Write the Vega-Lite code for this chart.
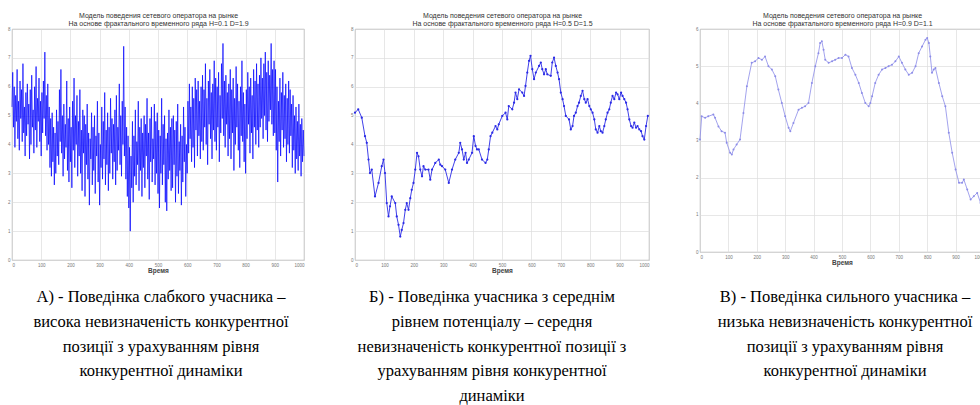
{
  "$schema": "https://vega.github.io/schema/vega-lite/v6.json",
  "background": "white",
  "padding": {"left": 7, "top": 10, "right": 0, "bottom": 0},
  "config": {
    "view": {"stroke": "#9a9a9a", "strokeWidth": 0.8},
    "axis": {
      "labelFont": "Liberation Sans", "labelFontSize": 4.5, "labelColor": "#777", "labelOverlap": false,
      "titleFont": "Liberation Sans", "titleFontSize": 6.5, "titleColor": "#444", "titleFontWeight": "bold",
      "gridColor": "#dcdcdc", "gridWidth": 0.7, "domain": false, "ticks": false, "labelPadding": 2
    },
    "title": {"font": "Liberation Serif", "fontSize": 16.5, "fontWeight": "normal", "color": "#000", "lineHeight": 24.8, "orient": "bottom", "anchor": "middle", "offset": 15}
  },
  "datasets": {
    "p1": [
      {"t":0,"y":5.3},{"t":2.5,"y":6.5},{"t":5,"y":4.6},{"t":7.5,"y":6.0},{"t":10,"y":3.9},{"t":12.5,"y":5.7},{"t":15,"y":4.8},{"t":17.5,"y":6.6},{"t":20,"y":4.2},{"t":22.5,"y":5.5},
      {"t":25,"y":3.8},{"t":27.5,"y":6.2},{"t":30,"y":4.9},{"t":32.5,"y":5.9},{"t":35,"y":4.1},{"t":37.5,"y":6.8},{"t":40,"y":4.4},{"t":42.5,"y":5.3},{"t":45,"y":3.6},{"t":47.5,"y":5.8},
      {"t":50,"y":4.3},{"t":52.5,"y":6.1},{"t":55,"y":4.7},{"t":57.5,"y":5.4},{"t":60,"y":3.5},{"t":62.5,"y":5.9},{"t":65,"y":4.0},{"t":67.5,"y":6.4},{"t":70,"y":4.6},{"t":72.5,"y":5.2},
      {"t":75,"y":3.7},{"t":77.5,"y":6.0},{"t":80,"y":4.5},{"t":82.5,"y":6.7},{"t":85,"y":3.9},{"t":87.5,"y":5.6},{"t":90,"y":4.8},{"t":92.5,"y":6.3},{"t":95,"y":4.1},{"t":97.5,"y":5.5},
      {"t":100,"y":3.6},{"t":102.5,"y":5.8},{"t":105,"y":4.4},{"t":107.5,"y":6.2},{"t":110,"y":4.9},{"t":112.5,"y":7.2},{"t":115,"y":4.3},{"t":117.5,"y":5.7},{"t":120,"y":3.8},{"t":122.5,"y":6.1},
      {"t":125,"y":4.0},{"t":127.5,"y":5.3},{"t":130,"y":3.2},{"t":132.5,"y":4.9},{"t":135,"y":2.9},{"t":137.5,"y":5.1},{"t":140,"y":3.4},{"t":142.5,"y":4.6},{"t":145,"y":2.6},{"t":147.5,"y":4.4},
      {"t":150,"y":3.0},{"t":152.5,"y":5.2},{"t":155,"y":3.6},{"t":157.5,"y":4.8},{"t":160,"y":3.3},{"t":162.5,"y":5.9},{"t":165,"y":4.1},{"t":167.5,"y":6.6},{"t":170,"y":3.7},{"t":172.5,"y":5.0},
      {"t":175,"y":2.9},{"t":177.5,"y":5.4},{"t":180,"y":3.5},{"t":182.5,"y":4.7},{"t":185,"y":3.9},{"t":187.5,"y":6.2},{"t":190,"y":3.1},{"t":192.5,"y":4.9},{"t":195,"y":2.7},{"t":197.5,"y":5.3},
      {"t":200,"y":3.4},{"t":202.5,"y":4.6},{"t":205,"y":2.5},{"t":207.5,"y":5.5},{"t":210,"y":3.8},{"t":212.5,"y":6.3},{"t":215,"y":3.2},{"t":217.5,"y":5.0},{"t":220,"y":4.0},{"t":222.5,"y":5.7},
      {"t":225,"y":2.9},{"t":227.5,"y":4.8},{"t":230,"y":3.6},{"t":232.5,"y":5.9},{"t":235,"y":3.0},{"t":237.5,"y":4.5},{"t":240,"y":2.4},{"t":242.5,"y":5.2},{"t":245,"y":3.7},{"t":247.5,"y":5.0},
      {"t":250,"y":2.2},{"t":252.5,"y":4.7},{"t":255,"y":3.3},{"t":257.5,"y":5.4},{"t":260,"y":2.8},{"t":262.5,"y":4.4},{"t":265,"y":1.9},{"t":267.5,"y":4.2},{"t":270,"y":3.5},{"t":272.5,"y":5.1},
      {"t":275,"y":2.6},{"t":277.5,"y":4.6},{"t":280,"y":3.1},{"t":282.5,"y":5.0},{"t":285,"y":2.3},{"t":287.5,"y":4.3},{"t":290,"y":3.6},{"t":292.5,"y":5.5},{"t":295,"y":2.7},{"t":297.5,"y":4.4},
      {"t":300,"y":1.9},{"t":302.5,"y":4.0},{"t":305,"y":3.2},{"t":307.5,"y":5.3},{"t":310,"y":2.8},{"t":312.5,"y":4.8},{"t":315,"y":3.5},{"t":317.5,"y":5.8},{"t":320,"y":2.6},{"t":322.5,"y":4.5},
      {"t":325,"y":3.3},{"t":327.5,"y":5.1},{"t":330,"y":2.4},{"t":332.5,"y":4.6},{"t":335,"y":3.0},{"t":337.5,"y":5.6},{"t":340,"y":3.7},{"t":342.5,"y":4.9},{"t":345,"y":2.8},{"t":347.5,"y":4.7},
      {"t":350,"y":3.4},{"t":352.5,"y":5.2},{"t":355,"y":2.6},{"t":357.5,"y":5.7},{"t":360,"y":3.1},{"t":362.5,"y":4.6},{"t":365,"y":3.8},{"t":367.5,"y":6.1},{"t":370,"y":3.3},{"t":372.5,"y":5.0},
      {"t":375,"y":2.9},{"t":377.5,"y":5.5},{"t":380,"y":4.0},{"t":382.5,"y":7.4},{"t":385,"y":3.6},{"t":387.5,"y":5.3},{"t":390,"y":2.8},{"t":392.5,"y":4.6},{"t":395,"y":2.2},{"t":397.5,"y":4.3},
      {"t":400,"y":1.8},{"t":402.5,"y":3.9},{"t":405,"y":1.0},{"t":407.5,"y":3.6},{"t":410,"y":2.5},{"t":412.5,"y":4.8},{"t":415,"y":2.0},{"t":417.5,"y":4.3},{"t":420,"y":2.9},{"t":422.5,"y":5.2},
      {"t":425,"y":2.6},{"t":427.5,"y":4.1},{"t":430,"y":3.3},{"t":432.5,"y":5.5},{"t":435,"y":2.4},{"t":437.5,"y":4.6},{"t":440,"y":3.1},{"t":442.5,"y":4.9},{"t":445,"y":2.2},{"t":447.5,"y":4.4},
      {"t":450,"y":3.2},{"t":452.5,"y":5.0},{"t":455,"y":2.5},{"t":457.5,"y":4.7},{"t":460,"y":3.6},{"t":462.5,"y":5.6},{"t":465,"y":2.8},{"t":467.5,"y":4.4},{"t":470,"y":2.1},{"t":472.5,"y":4.9},
      {"t":475,"y":3.4},{"t":477.5,"y":5.3},{"t":480,"y":2.7},{"t":482.5,"y":4.2},{"t":485,"y":3.5},{"t":487.5,"y":5.4},{"t":490,"y":2.6},{"t":492.5,"y":4.8},{"t":495,"y":3.0},{"t":497.5,"y":5.1},
      {"t":500,"y":2.3},{"t":502.5,"y":4.5},{"t":505,"y":1.8},{"t":507.5,"y":4.3},{"t":510,"y":3.0},{"t":512.5,"y":5.6},{"t":515,"y":2.6},{"t":517.5,"y":4.7},{"t":520,"y":3.3},{"t":522.5,"y":5.0},
      {"t":525,"y":2.0},{"t":527.5,"y":4.2},{"t":530,"y":1.7},{"t":532.5,"y":4.4},{"t":535,"y":2.8},{"t":537.5,"y":5.2},{"t":540,"y":3.1},{"t":542.5,"y":4.6},{"t":545,"y":2.4},{"t":547.5,"y":4.9},
      {"t":550,"y":2.5},{"t":552.5,"y":5.0},{"t":555,"y":3.3},{"t":557.5,"y":4.5},{"t":560,"y":2.0},{"t":562.5,"y":4.8},{"t":565,"y":2.9},{"t":567.5,"y":5.4},{"t":570,"y":2.3},{"t":572.5,"y":4.1},
      {"t":575,"y":3.1},{"t":577.5,"y":4.7},{"t":580,"y":1.9},{"t":582.5,"y":4.3},{"t":585,"y":2.7},{"t":587.5,"y":5.3},{"t":590,"y":3.4},{"t":592.5,"y":4.6},{"t":595,"y":2.2},{"t":597.5,"y":4.0},
      {"t":600,"y":3.0},{"t":602.5,"y":5.5},{"t":605,"y":3.7},{"t":607.5,"y":6.1},{"t":610,"y":4.2},{"t":612.5,"y":5.3},{"t":615,"y":3.4},{"t":617.5,"y":6.0},{"t":620,"y":3.9},{"t":622.5,"y":5.6},
      {"t":625,"y":3.2},{"t":627.5,"y":6.3},{"t":630,"y":4.5},{"t":632.5,"y":5.9},{"t":635,"y":3.6},{"t":637.5,"y":6.2},{"t":640,"y":4.3},{"t":642.5,"y":5.5},{"t":645,"y":3.5},{"t":647.5,"y":6.0},
      {"t":650,"y":4.1},{"t":652.5,"y":6.4},{"t":655,"y":3.8},{"t":657.5,"y":5.9},{"t":660,"y":4.6},{"t":662.5,"y":6.8},{"t":665,"y":4.0},{"t":667.5,"y":5.6},{"t":670,"y":3.3},{"t":672.5,"y":6.2},
      {"t":675,"y":4.7},{"t":677.5,"y":6.6},{"t":680,"y":4.2},{"t":682.5,"y":5.8},{"t":685,"y":3.5},{"t":687.5,"y":6.1},{"t":690,"y":4.5},{"t":692.5,"y":6.9},{"t":695,"y":4.1},{"t":697.5,"y":6.3},
      {"t":700,"y":3.8},{"t":702.5,"y":6.0},{"t":705,"y":4.6},{"t":707.5,"y":6.5},{"t":710,"y":3.4},{"t":712.5,"y":5.7},{"t":715,"y":4.4},{"t":717.5,"y":6.8},{"t":720,"y":4.9},{"t":722.5,"y":7.5},
      {"t":725,"y":4.3},{"t":727.5,"y":6.2},{"t":730,"y":3.9},{"t":732.5,"y":6.4},{"t":735,"y":4.7},{"t":737.5,"y":5.8},{"t":740,"y":3.6},{"t":742.5,"y":6.1},{"t":745,"y":4.2},{"t":747.5,"y":6.6},
      {"t":750,"y":3.5},{"t":752.5,"y":5.9},{"t":755,"y":4.4},{"t":757.5,"y":6.3},{"t":760,"y":3.1},{"t":762.5,"y":5.6},{"t":765,"y":4.0},{"t":767.5,"y":6.7},{"t":770,"y":4.6},{"t":772.5,"y":6.1},
      {"t":775,"y":3.8},{"t":777.5,"y":5.5},{"t":780,"y":3.2},{"t":782.5,"y":6.0},{"t":785,"y":4.3},{"t":787.5,"y":6.9},{"t":790,"y":4.1},{"t":792.5,"y":5.8},{"t":795,"y":3.4},{"t":797.5,"y":5.4},
      {"t":800,"y":3.0},{"t":802.5,"y":5.9},{"t":805,"y":4.2},{"t":807.5,"y":6.5},{"t":810,"y":4.7},{"t":812.5,"y":6.0},{"t":815,"y":3.7},{"t":817.5,"y":6.3},{"t":820,"y":4.4},{"t":822.5,"y":5.7},
      {"t":825,"y":3.5},{"t":827.5,"y":6.6},{"t":830,"y":4.6},{"t":832.5,"y":6.2},{"t":835,"y":4.0},{"t":837.5,"y":6.8},{"t":840,"y":4.5},{"t":842.5,"y":6.1},{"t":845,"y":3.9},{"t":847.5,"y":6.4},
      {"t":850,"y":4.6},{"t":852.5,"y":7.0},{"t":855,"y":4.9},{"t":857.5,"y":6.3},{"t":860,"y":4.2},{"t":862.5,"y":6.8},{"t":865,"y":5.0},{"t":867.5,"y":7.2},{"t":870,"y":4.5},{"t":872.5,"y":6.5},
      {"t":875,"y":4.1},{"t":877.5,"y":6.9},{"t":880,"y":4.8},{"t":882.5,"y":6.4},{"t":885,"y":5.2},{"t":887.5,"y":7.5},{"t":890,"y":4.7},{"t":892.5,"y":6.6},{"t":895,"y":4.3},{"t":897.5,"y":6.9},
      {"t":900,"y":4.4},{"t":902.5,"y":6.6},{"t":905,"y":3.8},{"t":907.5,"y":6.0},{"t":910,"y":2.7},{"t":912.5,"y":5.5},{"t":915,"y":4.1},{"t":917.5,"y":6.3},{"t":920,"y":3.6},{"t":922.5,"y":5.8},
      {"t":925,"y":4.5},{"t":927.5,"y":6.5},{"t":930,"y":3.9},{"t":932.5,"y":5.7},{"t":935,"y":4.2},{"t":937.5,"y":6.1},{"t":940,"y":3.4},{"t":942.5,"y":5.6},{"t":945,"y":4.0},{"t":947.5,"y":6.2},
      {"t":950,"y":3.7},{"t":952.5,"y":5.9},{"t":955,"y":4.3},{"t":957.5,"y":5.4},{"t":960,"y":3.2},{"t":962.5,"y":5.7},{"t":965,"y":3.8},{"t":967.5,"y":5.0},{"t":970,"y":3.0},{"t":972.5,"y":5.3},
      {"t":975,"y":3.5},{"t":977.5,"y":4.8},{"t":980,"y":3.1},{"t":982.5,"y":5.4},{"t":985,"y":3.6},{"t":987.5,"y":4.7},{"t":990,"y":2.9},{"t":992.5,"y":4.9},{"t":995,"y":3.4},{"t":997.5,"y":4.5},
      {"t":1000,"y":3.6}
    ],
    "p2": [
      {"t":0,"y":5.10},{"t":11,"y":5.22},{"t":23,"y":4.93},{"t":34,"y":4.29},{"t":40,"y":4.06},{"t":46,"y":3.48},{"t":51,"y":3.01},{"t":57,"y":3.13},{"t":68,"y":2.20},{"t":80,"y":2.67},
      {"t":91,"y":3.25},{"t":97,"y":3.48},{"t":102,"y":3.01},{"t":108,"y":1.97},{"t":114,"y":1.51},{"t":119,"y":1.86},{"t":125,"y":2.20},{"t":137,"y":1.97},{"t":142,"y":1.51},{"t":148,"y":1.22},
      {"t":154,"y":0.81},{"t":159,"y":1.04},{"t":165,"y":1.28},{"t":171,"y":1.74},{"t":176,"y":1.97},{"t":182,"y":1.74},{"t":188,"y":2.14},{"t":193,"y":2.43},{"t":199,"y":2.67},{"t":205,"y":3.13},
      {"t":211,"y":3.71},{"t":216,"y":3.59},{"t":222,"y":3.13},{"t":228,"y":2.90},{"t":233,"y":3.25},{"t":239,"y":3.13},{"t":250,"y":3.13},{"t":256,"y":2.78},{"t":262,"y":3.13},{"t":273,"y":3.36},
      {"t":285,"y":3.48},{"t":290,"y":3.30},{"t":296,"y":3.25},{"t":307,"y":3.13},{"t":319,"y":2.67},{"t":330,"y":3.13},{"t":341,"y":3.48},{"t":353,"y":3.71},{"t":358,"y":4.06},{"t":364,"y":3.83},
      {"t":370,"y":3.48},{"t":376,"y":3.71},{"t":381,"y":3.36},{"t":387,"y":3.48},{"t":398,"y":3.71},{"t":404,"y":4.29},{"t":410,"y":3.95},{"t":415,"y":3.83},{"t":421,"y":3.83},{"t":432,"y":3.48},
      {"t":444,"y":3.36},{"t":450,"y":3.48},{"t":455,"y":3.83},{"t":461,"y":4.29},{"t":467,"y":4.41},{"t":478,"y":4.64},{"t":484,"y":4.52},{"t":489,"y":4.70},{"t":501,"y":4.99},{"t":512,"y":5.10},
      {"t":518,"y":4.87},{"t":523,"y":5.33},{"t":535,"y":5.22},{"t":541,"y":5.45},{"t":546,"y":5.80},{"t":552,"y":5.57},{"t":558,"y":5.91},{"t":569,"y":5.80},{"t":575,"y":5.68},{"t":580,"y":6.03},
      {"t":586,"y":6.49},{"t":592,"y":6.90},{"t":597,"y":7.07},{"t":603,"y":6.61},{"t":609,"y":6.26},{"t":615,"y":6.49},{"t":626,"y":6.72},{"t":632,"y":6.84},{"t":637,"y":6.61},{"t":643,"y":6.43},
      {"t":649,"y":6.61},{"t":654,"y":6.43},{"t":666,"y":6.38},{"t":671,"y":6.84},{"t":677,"y":7.01},{"t":683,"y":6.72},{"t":689,"y":6.49},{"t":694,"y":6.26},{"t":700,"y":5.80},{"t":706,"y":5.57},
      {"t":711,"y":5.33},{"t":717,"y":4.99},{"t":728,"y":4.87},{"t":734,"y":4.52},{"t":740,"y":4.64},{"t":745,"y":4.99},{"t":751,"y":5.10},{"t":757,"y":5.33},{"t":762,"y":5.45},{"t":768,"y":5.68},
      {"t":774,"y":5.86},{"t":780,"y":5.57},{"t":785,"y":5.45},{"t":791,"y":5.57},{"t":797,"y":5.33},{"t":802,"y":5.22},{"t":808,"y":5.10},{"t":814,"y":4.87},{"t":819,"y":4.52},{"t":825,"y":4.41},
      {"t":831,"y":4.64},{"t":836,"y":4.46},{"t":842,"y":4.41},{"t":848,"y":4.64},{"t":853,"y":4.87},{"t":859,"y":5.10},{"t":865,"y":5.22},{"t":870,"y":5.45},{"t":876,"y":5.68},{"t":882,"y":5.57},
      {"t":888,"y":5.80},{"t":893,"y":5.74},{"t":899,"y":5.57},{"t":905,"y":5.80},{"t":910,"y":5.68},{"t":916,"y":5.57},{"t":922,"y":5.45},{"t":927,"y":5.22},{"t":933,"y":4.87},{"t":939,"y":4.64},
      {"t":944,"y":4.58},{"t":950,"y":4.76},{"t":956,"y":4.58},{"t":961,"y":4.64},{"t":967,"y":4.52},{"t":973,"y":4.46},{"t":978,"y":4.29},{"t":984,"y":4.17},{"t":990,"y":4.64},{"t":996,"y":4.99}
    ],
    "p3": [
      {"t":0,"y":3.03},{"t":6,"y":3.65},{"t":18,"y":3.61},{"t":29,"y":3.65},{"t":47,"y":3.70},{"t":53,"y":3.61},{"t":65,"y":3.38},{"t":76,"y":3.25},{"t":88,"y":3.21},{"t":94,"y":2.94},
      {"t":106,"y":2.67},{"t":112,"y":2.62},{"t":118,"y":2.76},{"t":129,"y":2.89},{"t":141,"y":3.03},{"t":153,"y":3.74},{"t":165,"y":4.46},{"t":182,"y":5.09},{"t":194,"y":5.13},{"t":206,"y":5.22},
      {"t":218,"y":5.17},{"t":229,"y":5.26},{"t":241,"y":5.0},{"t":253,"y":4.91},{"t":265,"y":4.73},{"t":276,"y":4.37},{"t":288,"y":4.01},{"t":300,"y":3.65},{"t":312,"y":3.34},{"t":318,"y":3.25},
      {"t":329,"y":3.47},{"t":347,"y":3.83},{"t":359,"y":3.88},{"t":370,"y":3.92},{"t":382,"y":4.01},{"t":394,"y":4.55},{"t":406,"y":5.0},{"t":417,"y":5.35},{"t":423,"y":5.62},{"t":429,"y":5.67},
      {"t":435,"y":5.44},{"t":441,"y":5.17},{"t":453,"y":5.09},{"t":465,"y":5.13},{"t":476,"y":5.17},{"t":488,"y":5.22},{"t":500,"y":5.22},{"t":512,"y":5.31},{"t":523,"y":5.26},{"t":535,"y":4.95},
      {"t":547,"y":4.77},{"t":559,"y":4.55},{"t":570,"y":4.28},{"t":582,"y":4.01},{"t":594,"y":3.92},{"t":600,"y":4.01},{"t":606,"y":4.19},{"t":617,"y":4.55},{"t":629,"y":4.77},{"t":641,"y":4.91},
      {"t":653,"y":4.95},{"t":664,"y":5.0},{"t":676,"y":5.04},{"t":688,"y":5.13},{"t":700,"y":5.26},{"t":711,"y":5.09},{"t":723,"y":4.91},{"t":735,"y":4.77},{"t":747,"y":4.82},{"t":759,"y":5.0},
      {"t":770,"y":5.35},{"t":782,"y":5.53},{"t":794,"y":5.71},{"t":800,"y":5.76},{"t":806,"y":5.62},{"t":811,"y":5.26},{"t":817,"y":4.82},{"t":823,"y":4.91},{"t":829,"y":4.95},{"t":841,"y":4.55},
      {"t":853,"y":4.19},{"t":864,"y":3.92},{"t":876,"y":3.21},{"t":888,"y":2.67},{"t":900,"y":2.22},{"t":912,"y":1.86},{"t":923,"y":1.86},{"t":929,"y":1.95},{"t":941,"y":1.68},{"t":953,"y":1.41},
      {"t":964,"y":1.50},{"t":976,"y":1.59},{"t":988,"y":1.32},{"t":994,"y":0.97},{"t":1000,"y":0.85}
    ]
  },
  "bounds": "flush",
  "spacing": 51,
  "hconcat": [
    {
      "width": 292, "height": 231,
      "title": {"text": ["А) - Поведінка слабкого учасника –", "висока невизначеність конкурентної", "позиції з урахуванням рівня", "конкурентної динаміки"], "font": "Liberation Serif", "fontSize": 16.5, "dx": 3},
      "data": {"name": "p1"},
      "resolve": {"axis": {"x": "independent"}},
      "layer": [
        {
          "mark": {"type": "line", "color": "#0000ff", "strokeWidth": 0.7},
          "encoding": {
            "x": {"field": "t", "type": "quantitative", "scale": {"domain": [0, 1000], "nice": false}, "axis": {"values": [0,100,200,300,400,500,600,700,800,900,1000], "format": "d", "title": "Время", "titlePadding": 1}},
            "y": {"field": "y", "type": "quantitative", "scale": {"domain": [0, 8], "nice": false}, "axis": {"values": [0,1,2,3,4,5,6,7,8], "format": "d", "title": null}}
          }
        },
        {
          "mark": {"type": "point", "opacity": 0},
          "encoding": {
            "x": {"field": "t", "type": "quantitative", "axis": {"orient": "top", "labels": false, "grid": false, "title": ["Модель поведения сетевого оператора на рынке", "На основе фрактального временного ряда H=0.1 D=1.9"], "titleFontWeight": "normal", "titleFontSize": 7, "titleColor": "#333", "titleLineHeight": 8, "titlePadding": 3}},
            "y": {"field": "y", "type": "quantitative", "axis": {"values": [0,1,2,3,4,5,6,7,8], "format": "d", "title": null}}
          }
        }
      ]
    },
    {
      "width": 294, "height": 231,
      "title": {"text": ["Б) - Поведінка учасника з середнім", "рівнем потенціалу – середня", "невизначеність конкурентної позиції з", "урахуванням рівня конкурентної", "динаміки"], "font": "Liberation Serif", "fontSize": 16.5, "dx": -10},
      "data": {"name": "p2"},
      "resolve": {"axis": {"x": "independent"}},
      "layer": [
        {
          "mark": {"type": "line", "color": "#2a2ae6", "strokeWidth": 0.9, "point": {"filled": true, "size": 5, "color": "#2a2ae6"}},
          "encoding": {
            "x": {"field": "t", "type": "quantitative", "scale": {"domain": [0, 1000], "nice": false}, "axis": {"values": [0,100,200,300,400,500,600,700,800,900,1000], "format": "d", "title": "Время", "titlePadding": 1}},
            "y": {"field": "y", "type": "quantitative", "scale": {"domain": [0, 8], "nice": false}, "axis": {"values": [0,1,2,3,4,5,6,7,8], "format": "d", "title": null}}
          }
        },
        {
          "mark": {"type": "point", "opacity": 0},
          "encoding": {
            "x": {"field": "t", "type": "quantitative", "axis": {"orient": "top", "labels": false, "grid": false, "title": ["Модель поведения сетевого оператора на рынке", "На основе фрактального временного ряда H=0.5 D=1.5"], "titleFontWeight": "normal", "titleFontSize": 7, "titleColor": "#333", "titleLineHeight": 8, "titlePadding": 3}},
            "y": {"field": "y", "type": "quantitative", "axis": {"values": [0,1,2,3,4,5,6,7,8], "format": "d", "title": null}}
          }
        }
      ]
    },
    {
      "width": 284, "height": 223,
      "title": {"text": ["В) - Поведінка сильного учасника –", "низька невизначеність конкурентної", "позиції з урахуванням рівня", "конкурентної динаміки"], "font": "Liberation Serif", "fontSize": 16.5, "offset": 23, "dx": 3},
      "data": {"name": "p3"},
      "resolve": {"axis": {"x": "independent"}},
      "layer": [
        {
          "mark": {"type": "line", "color": "#8c8ce8", "strokeWidth": 0.8, "point": {"filled": true, "size": 4, "color": "#8c8ce8"}},
          "encoding": {
            "x": {"field": "t", "type": "quantitative", "scale": {"domain": [0, 1000], "nice": false}, "axis": {"values": [0,100,200,300,400,500,600,700,800,900,1000], "format": "d", "title": "Время", "titlePadding": 1}},
            "y": {"field": "y", "type": "quantitative", "scale": {"domain": [0, 6], "nice": false}, "axis": {"values": [0,1,2,3,4,5,6], "format": "d", "title": null}}
          }
        },
        {
          "mark": {"type": "point", "opacity": 0},
          "encoding": {
            "x": {"field": "t", "type": "quantitative", "axis": {"orient": "top", "labels": false, "grid": false, "title": ["Модель поведения сетевого оператора на рынке", "На основе фрактального временного ряда H=0.9 D=1.1"], "titleFontWeight": "normal", "titleFontSize": 7, "titleColor": "#333", "titleLineHeight": 8, "titlePadding": 3}},
            "y": {"field": "y", "type": "quantitative", "axis": {"values": [0,1,2,3,4,5,6], "format": "d", "title": null}}
          }
        }
      ]
    }
  ]
}
